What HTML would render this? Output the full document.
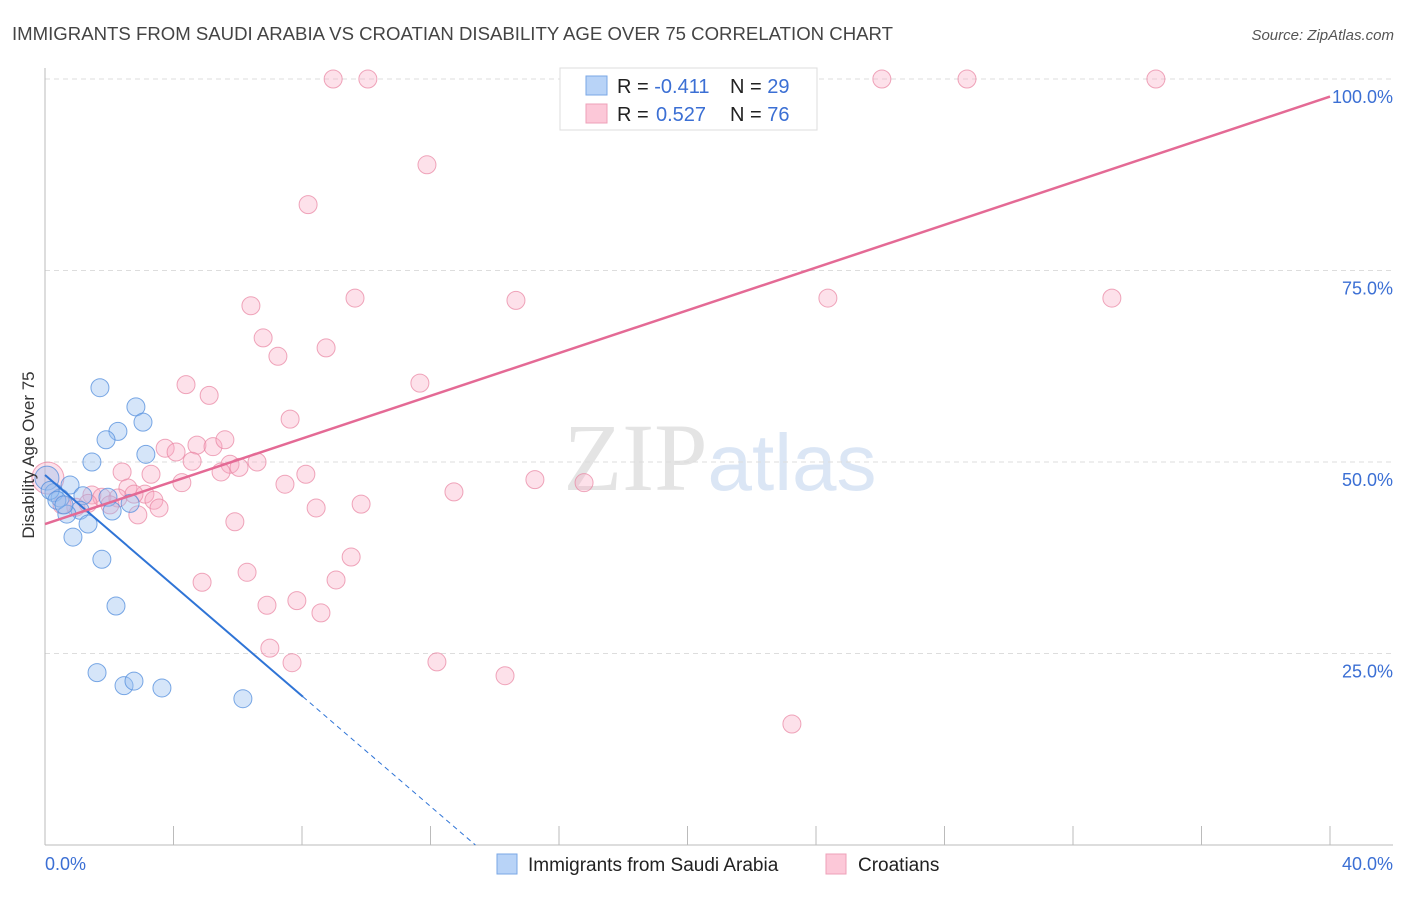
<!DOCTYPE html>
<html><head><meta charset="utf-8"><style>
body{margin:0;background:#fff;font-family:"Liberation Sans",sans-serif}
</style></head><body>
<svg id="chart" width="1406" height="892" xmlns="http://www.w3.org/2000/svg" font-family="Liberation Sans, sans-serif">
<text x="12" y="40" font-size="18.6" fill="#444">IMMIGRANTS FROM SAUDI ARABIA VS CROATIAN DISABILITY AGE OVER 75 CORRELATION CHART</text>
<text x="1394" y="40" font-size="15" fill="#555" text-anchor="end" font-style="italic">Source: ZipAtlas.com</text>
<text x="720" y="490" font-size="96" fill="#e4e4e4" text-anchor="middle" font-family="Liberation Serif, serif">ZIP<tspan fill="#dbe6f5" font-family="Liberation Sans, sans-serif" font-size="80">atlas</tspan></text>
<g id="grid"></g><g id="axes"></g><g id="marks"></g>
<text transform="translate(34,455) rotate(-90)" font-size="17" fill="#333" text-anchor="middle">Disability Age Over 75</text>
<g>
<rect x="560" y="68" width="257" height="62" fill="#fff" stroke="#ddd"/>
<rect x="586" y="76" width="21" height="19" fill="#b8d3f7" stroke="#7aa7e6"/>
<rect x="586" y="104" width="21" height="19" fill="#fcc8d8" stroke="#eea0b8"/>
<text x="617" y="93" font-size="20" fill="#222">R = <tspan fill="#3b6fd4">-0.411</tspan><tspan x="730">N = </tspan><tspan fill="#3b6fd4">29</tspan></text>
<text x="617" y="121" font-size="20" fill="#222">R = <tspan fill="#3b6fd4" x="656">0.527</tspan><tspan x="730">N = </tspan><tspan fill="#3b6fd4">76</tspan></text>
</g>
<g>
<rect x="497" y="854" width="20" height="20" fill="#b8d3f7" stroke="#7aa7e6"/>
<text x="528" y="871" font-size="19" fill="#222">Immigrants from Saudi Arabia</text>
<rect x="826" y="854" width="20" height="20" fill="#fcc8d8" stroke="#eea0b8"/>
<text x="858" y="871" font-size="19" fill="#222">Croatians</text>
</g>
</svg>
<script>
const xTicks=[0,4,8,12,16,20,24,28,32,36,40];
const yTicks=[25,50,75,100];
const blueX=[1.71,2.83,3.05,2.27,1.90,3.14,1.46,0.06,0.78,0.28,1.18,0.47,1.96,2.65,1.09,2.09,0.68,1.34,0.87,1.77,2.21,1.62,2.46,2.77,3.64,6.16,0.16,0.37,0.59];
const blueY=[59.7,57.2,55.2,54.0,52.9,51.0,50.0,47.9,47.0,46.0,45.6,45.3,45.4,44.6,43.7,43.6,43.2,41.9,40.2,37.3,31.2,22.5,20.8,21.4,20.5,19.1,46.3,45.0,44.4];
const pinkX=[8.97,10.05,22.26,26.05,28.7,34.58,11.89,8.19,9.65,14.66,24.37,33.21,6.41,6.79,8.75,7.25,11.67,4.39,5.11,7.63,3.74,4.08,4.73,5.23,5.60,4.58,5.76,6.04,6.60,2.40,3.30,5.48,8.12,4.26,7.47,15.25,16.78,12.73,2.58,1.46,1.77,2.27,3.11,3.39,2.77,2.02,0.96,1.34,3.55,8.44,9.84,2.89,0.09,0.53,5.91,9.53,9.06,6.29,4.89,6.91,7.84,8.59,7.00,7.69,12.20,14.32,23.25];
const pinkY=[100,100,100,100,100,100,88.8,83.6,71.4,71.1,71.4,71.4,70.4,66.2,64.9,63.8,60.3,60.1,58.7,55.6,51.8,51.3,52.2,52.0,52.9,50.1,49.7,49.3,50.0,48.7,48.4,48.7,48.4,47.3,47.1,47.7,47.3,46.1,46.6,45.7,45.4,45.3,45.8,45.0,45.8,44.4,44.1,44.6,44.0,44.0,44.5,43.1,47.9,44.4,42.2,37.6,34.6,35.6,34.3,31.3,31.9,30.3,25.7,23.8,23.9,22.1,15.8];
const blueLine=[48.3,-95.9];
const pinkLine=[41.9,97.7];
const NS='http://www.w3.org/2000/svg';
const sx=v=>45+v/40*1285, sy=v=>845-v/100*766;
function mk(t,a,p){const e=document.createElementNS(NS,t);for(const k in a)e.setAttribute(k,a[k]);p.appendChild(e);return e;}
const grid=document.getElementById('grid'),axes=document.getElementById('axes'),marks=document.getElementById('marks');
yTicks.forEach(v=>{
 const l=mk('line',{x1:45,x2:1393,y1:sy(v),y2:sy(v),stroke:'#ddd','stroke-dasharray':'5,4'},grid);
 
 
 const t=mk('text',{x:1393,y:sy(v)+24,'font-size':18,fill:'#3b6fd4','text-anchor':'end'},axes);
 t.textContent=v.toFixed(1)+'%';
 
 
});
mk('line',{x1:45,x2:45,y1:68,y2:845,stroke:'#bbb'},axes);
mk('line',{x1:45,x2:1393,y1:845,y2:845,stroke:'#bbb'},axes);
xTicks.forEach(v=>{
 const l=mk('line',{x1:sx(v),x2:sx(v),y1:826,y2:845,stroke:'#bbb'},axes);
 
 
});
[[0,'start'],[40,'end']].forEach(([v,a])=>{
 const t=mk('text',{x:a==='start'?sx(v):1393,y:870,'font-size':18,fill:'#3b6fd4','text-anchor':a},axes);
 t.textContent=v.toFixed(1)+'%';
 
 
});
pinkX.forEach((x,i)=>{
 const c=mk('circle',{cx:sx(x),cy:sy(pinkY[i]),r:(i===52?16:9),fill:'rgba(248,170,195,0.35)',stroke:'rgba(232,130,160,0.7)','stroke-width':1},marks);
 
 
});
blueX.forEach((x,i)=>{
 const c=mk('circle',{cx:sx(x),cy:sy(blueY[i]),r:(i===7?12:9),fill:'rgba(150,190,240,0.4)',stroke:'rgba(80,140,220,0.75)','stroke-width':1},marks);
 
 
});
const by=x=>blueLine[0]+(blueLine[1]-blueLine[0])*x/40;
const bEnd=8.03, bZero=blueLine[0]/(blueLine[0]-blueLine[1])*40;
const bl=mk('line',{x1:sx(0),y1:sy(by(0)),x2:sx(bEnd),y2:sy(by(bEnd)),stroke:'#2f74d6','stroke-width':2},marks);


const bd=mk('line',{x1:sx(bEnd),y1:sy(by(bEnd)),x2:sx(bZero),y2:sy(0),stroke:'#2f74d6','stroke-width':1,'stroke-dasharray':'5,4'},marks);


const pl=mk('line',{x1:sx(0),y1:sy(pinkLine[0]),x2:sx(40),y2:sy(pinkLine[1]),stroke:'#e46a95','stroke-width':2.5},marks);


</script>
</body></html>
